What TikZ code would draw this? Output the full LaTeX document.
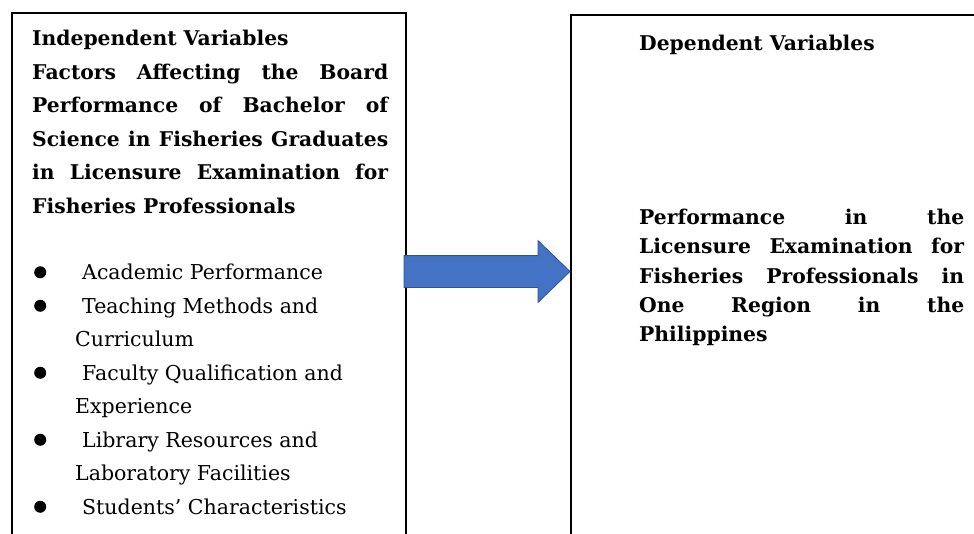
\documentclass[tikz,border=0pt]{standalone}
\usepackage{fontspec}
\setmainfont{DejaVu Serif}
\usetikzlibrary{shapes.arrows,positioning}
\definecolor{cfBlue}{HTML}{4472C4}
\definecolor{cfEdge}{HTML}{2F528F}
\newcommand{\bul}{\makebox[48pt][l]{\raisebox{1.5pt}{\tikz\fill (0,0) circle (6pt);}}}
\newcommand{\cont}{\hspace*{41pt}}
\tikzset{
  varbox/.style={draw=black, line width=1.6pt, anchor=north west, inner sep=0pt},
  headtext/.style={anchor=north west, inner sep=0pt, align=justify,
    font=\fontsize{20.3}{33.5}\selectfont\bfseries},
  dvtext/.style={anchor=north west, inner sep=0pt, align=justify,
    font=\fontsize{20.3}{29.3}\selectfont\bfseries},
  itemlist/.style={anchor=north west, inner sep=0pt, align=left,
    font=\fontsize{20.5}{33.5}\selectfont},
  bigarrow/.style={single arrow, draw=cfEdge, fill=cfBlue, line width=0.8pt,
    inner sep=0pt, minimum height=166pt, single arrow head extend=15pt,
    single arrow tip angle=88}
}
\begin{document}
\begin{tikzpicture}[x=1pt, y=-1pt]
  \useasboundingbox (0,0) rectangle (974,533);
  \clip (0,0) rectangle (974,533);
  % both boxes run on past the lower edge
  \node[varbox, minimum width=394pt, minimum height=560pt] (ivbox) at (11,12) {};
  \node[varbox, minimum width=430pt, minimum height=560pt] (dvbox) at (570,14) {};
  % independent variables
  \node[headtext, text width=356pt] (ivhead) at (32,30) {Independent Variables\\
    Factors Affecting the Board\linebreak
    Performance of Bachelor of\linebreak
    Science in Fisheries Graduates\linebreak
    in Licensure Examination for\linebreak
    Fisheries Professionals};
  \node[itemlist] (ivlist) at (34,264) {%
    \bul Academic Performance\\
    \bul Teaching Methods and\\
    \cont Curriculum\\
    \bul Faculty Qualification and\\
    \cont Experience\\
    \bul Library Resources and\\
    \cont Laboratory Facilities\\
    \bul Students’ Characteristics};
  % dependent variable
  \node[headtext, text width=325pt] (dvhead) at (639,35) {Dependent Variables};
  \node[dvtext, text width=325pt] (dvbody) at (639,209) {%
    Performance in the\linebreak
    Licensure Examination for\linebreak
    Fisheries Professionals in\linebreak
    One Region in the\linebreak
    Philippines};
  % block arrow between the boxes
  \node[bigarrow, anchor=tail, xshift=-3pt] (link) at (ivbox.east |- 0,271.5) {\rule{0pt}{31pt}};
\end{tikzpicture}
\end{document}
